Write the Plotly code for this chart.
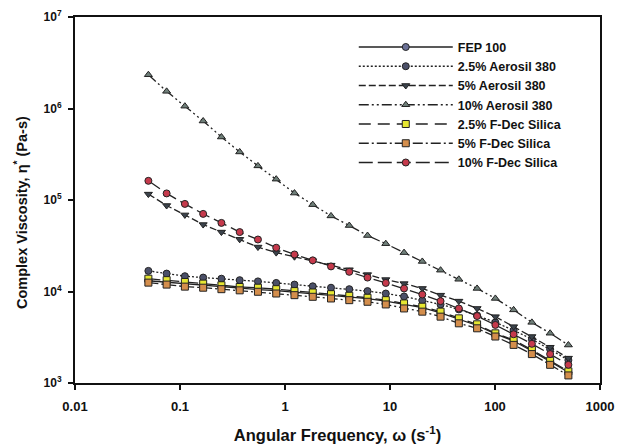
import plotly.graph_objects as go

freq = [0.05, 0.0746, 0.1113, 0.1662, 0.2480, 0.3703, 0.5526, 0.8249, 1.231, 1.838,
        2.743, 4.094, 6.110, 9.118, 13.61, 20.31, 30.31, 45.24, 67.52, 100.8,
        150.4, 224.5, 335.0, 500.0]

fep100 = [1.31e4, 1.26e4, 1.21e4, 1.16e4, 1.12e4, 1.08e4, 1.05e4, 1.02e4, 9.8e3, 9.45e3,
          9.1e3, 8.75e3, 8.35e3, 7.85e3, 7.25e3, 6.65e3, 5.85e3, 4.95e3, 4.25e3, 3.45e3,
          2.88e3, 2.24e3, 1.70e3, 1.31e3]
aer25 = [1.68e4, 1.57e4, 1.47e4, 1.42e4, 1.38e4, 1.33e4, 1.29e4, 1.24e4, 1.19e4, 1.14e4,
         1.10e4, 1.06e4, 1.01e4, 9.5e3, 8.83e3, 7.98e3, 7.22e3, 6.37e3, 5.48e3, 4.60e3,
         3.77e3, 3.01e3, 2.34e3, 1.78e3]
aer5 = [1.16e5, 8.7e4, 6.87e4, 5.39e4, 4.46e4, 3.72e4, 3.06e4, 2.66e4, 2.40e4, 2.17e4,
        1.94e4, 1.73e4, 1.53e4, 1.35e4, 1.22e4, 1.08e4, 9.12e3, 7.85e3, 6.53e3, 5.31e3,
        4.13e3, 3.22e3, 2.46e3, 1.87e3]
aer10 = [2.34e6, 1.54e6, 1.06e6, 7.3e5, 4.88e5, 3.35e5, 2.36e5, 1.69e5, 1.19e5, 8.9e4,
         6.7e4, 5.26e4, 4.09e4, 3.33e4, 2.66e4, 2.13e4, 1.71e4, 1.36e4, 1.08e4, 8.4e3,
         6.3e3, 4.6e3, 3.5e3, 2.6e3]
fdec25 = [1.38e4, 1.33e4, 1.27e4, 1.22e4, 1.17e4, 1.12e4, 1.10e4, 1.06e4, 1.01e4, 9.75e3,
          9.35e3, 8.98e3, 8.54e3, 8.04e3, 7.41e3, 6.82e3, 6.02e3, 5.09e3, 4.38e3, 3.49e3,
          2.96e3, 2.30e3, 1.75e3, 1.34e3]
fdec5 = [1.25e4, 1.19e4, 1.13e4, 1.10e4, 1.06e4, 1.03e4, 9.93e3, 9.51e3, 9.12e3, 8.75e3,
         8.39e3, 8.04e3, 7.72e3, 7.22e3, 6.53e3, 6.02e3, 5.31e3, 4.49e3, 3.96e3, 3.22e3,
         2.61e3, 2.07e3, 1.58e3, 1.21e3]
fdec10 = [1.62e5, 1.18e5, 9.06e4, 7.05e4, 5.62e4, 4.46e4, 3.70e4, 3.01e4, 2.54e4, 2.19e4,
          1.88e4, 1.64e4, 1.42e4, 1.24e4, 1.08e4, 9.27e3, 7.85e3, 6.53e3, 5.39e3, 4.31e3,
          3.41e3, 2.68e3, 2.07e3, 1.58e3]

names = ["FEP 100", "2.5% Aerosil 380", "5% Aerosil 380", "10% Aerosil 380",
         "2.5% F-Dec Silica", "5% F-Dec Silica", "10% F-Dec Silica"]
series = [fep100, aer25, aer5, aer10, fdec25, fdec5, fdec10]
symbols = ["circle", "circle", "triangle-down", "triangle-up", "square", "square", "circle"]
fills = ["#6a7096", "#4b5068", "#3b434c", "#6f7f79", "#e6e632", "#d48e4c", "#c63a4c"]
dashes = ["solid", "2px,2px", "7px,3px", "10px,3px,2px,3px,2px,3px",
          "12px,7px", "10px,3px,2px,3px", "14px,5px"]

x_ticks = [0.01, 0.1, 1, 10, 100, 1000]
x_labels = ["0.01", "0.1", "1", "10", "100", "1000"]
y_ticks = [1e3, 1e4, 1e5, 1e6, 1e7]
y_labels = ["10<sup>3</sup>", "10<sup>4</sup>", "10<sup>5</sup>", "10<sup>6</sup>", "10<sup>7</sup>"]

fig = go.Figure()
for nm, ys, sym, fc, ds in zip(names, series, symbols, fills, dashes):
    fig.add_trace(go.Scatter(
        x=freq, y=ys, name=nm, mode="lines+markers",
        line=dict(color="#222222", width=1.3, dash=ds),
        marker=dict(symbol=sym, size=7, color=fc, line=dict(color="#222222", width=1)),
    ))

font_family = "Arial, Liberation Sans, sans-serif"
fig.update_layout(
    width=618, height=444,
    margin=dict(l=75, r=18, t=17, b=61),
    paper_bgcolor="white", plot_bgcolor="white",
    font=dict(family=font_family, color="#111111"),
    legend=dict(x=0.531, y=0.958, xanchor="left", yanchor="top",
                font=dict(size=12.5, family=font_family, color="#111111", weight="bold"),
                itemwidth=94, tracegroupgap=0, bgcolor="rgba(0,0,0,0)"),
    xaxis=dict(type="log", range=[-2, 3], automargin=False,
               tickvals=x_ticks, ticktext=x_labels,
               ticks="outside", ticklen=5, tickwidth=1.5, tickcolor="#111",
               ticklabelstandoff=5,
               showline=True, linecolor="#111", linewidth=2, mirror=True,
               showgrid=False, zeroline=False,
               tickfont=dict(size=13, family=font_family, weight="bold"),
               title=dict(text="Angular Frequency, ω (s<sup>-1</sup>)",
                          font=dict(size=16.5, family=font_family, weight="bold"), standoff=18)),
    yaxis=dict(type="log", range=[3, 7], automargin=False,
               tickvals=y_ticks, ticktext=y_labels,
               ticks="outside", ticklen=5, tickwidth=1.5, tickcolor="#111",
               ticklabelstandoff=4,
               showline=True, linecolor="#111", linewidth=2, mirror=True,
               showgrid=False, zeroline=False,
               tickfont=dict(size=12, family=font_family, weight="bold")),
    annotations=[dict(text="Complex Viscosity, η<sup>*</sup> (Pa-s)", textangle=-90,
                      xref="paper", yref="paper", x=(21 - 75) / 525, y=1 - (213 - 17) / 366,
                      xanchor="center", yanchor="middle", showarrow=False,
                      font=dict(size=14.5, family=font_family, weight="bold", color="#111111"))],
)

fig.write_html("out.html", config={"displayModeBar": False},
               post_script="document.body.style.margin='0';")
